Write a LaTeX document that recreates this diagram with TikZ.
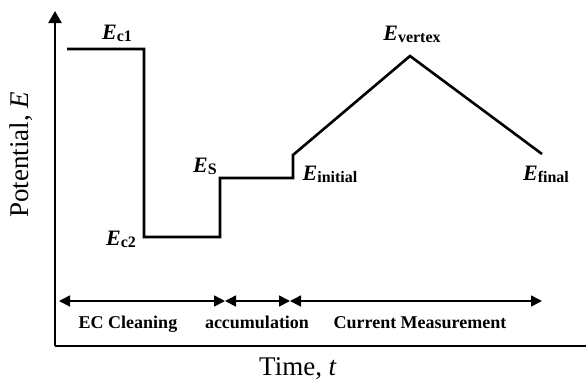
\documentclass[tikz,border=0pt]{standalone}
\usepackage{fontspec}
\setmainfont{Liberation Serif}
\usetikzlibrary{arrows.meta}
\newcommand{\Elab}[1]{{\fontsize{22}{22}\selectfont\bfseries\itshape E}\raisebox{-2pt}{\fontsize{16}{16}\selectfont\bfseries #1}}
\tikzset{
  plotline/.style={line width=2.6pt, line join=miter},
  axisline/.style={line width=2.4pt},
  dimline/.style={line width=1.6pt, {Triangle[length=11pt,width=11pt]}-{Triangle[length=11pt,width=11pt]}},
  elab/.style={anchor=base, inner sep=0pt},
  phase/.style={anchor=base, inner sep=0pt, font=\fontsize{18}{18}\selectfont\bfseries},
  axlab/.style={anchor=base, inner sep=0pt, font=\fontsize{27}{27}\selectfont}
}
\begin{document}
\begin{tikzpicture}[x=1pt,y=-1pt]
\useasboundingbox (0,0) rectangle (586,381);
% axes
\coordinate (O) at (55,346);
\coordinate (ytop) at (55,11);
\coordinate (xend) at (599,346);
\draw[axisline,-{Triangle[length=12pt,width=13pt]}] (O) -- (ytop);
\draw[axisline,-{Triangle[length=12pt,width=15pt]}] (O) -- (xend);
% waveform
\coordinate (p1) at (67,49);
\coordinate (p2) at (144,49);
\coordinate (p3) at (144,237);
\coordinate (p4) at (220,237);
\coordinate (p5) at (220,178);
\coordinate (p6) at (293,178);
\coordinate (p7) at (293,155);
\coordinate (p8) at (410,56);
\coordinate (p9) at (542,154);
\draw[plotline] (p1) -- (p2) -- (p3) -- (p4) -- (p5) -- (p6) -- (p7) -- (p8) -- (p9);
% labels
\node[elab] (ec1) at (117,39) {\Elab{c1}};
\node[elab] (ever) at (412,40) {\Elab{vertex}};
\node[elab] (es) at (205,172) {\Elab{S}};
\node[elab] (eini) at (330,180) {\Elab{initial}};
\node[elab] (efin) at (546,180) {\Elab{final}};
\node[elab] (ec2) at (121,245) {\Elab{c2}};
% phases
\coordinate (d0) at (59,301);
\coordinate (d1) at (225,301);
\coordinate (d2) at (290,301);
\coordinate (d3) at (542,301);
\draw[dimline] (d0) -- (d1);
\draw[dimline] (d1) -- (d2);
\draw[dimline] (d2) -- (d3);
\node[phase] (ph1) at (128,328) {EC Cleaning};
\node[phase] (ph2) at (257,328) {accumulation};
\node[phase] (ph3) at (420,328) {Current Measurement};
% axis labels
\node[axlab] (tl) at (298,375) {Time, \textit{t}};
\node[axlab, rotate=90] (pl) at (28,155) {Potential, \textit{E}};
\end{tikzpicture}
\end{document}
